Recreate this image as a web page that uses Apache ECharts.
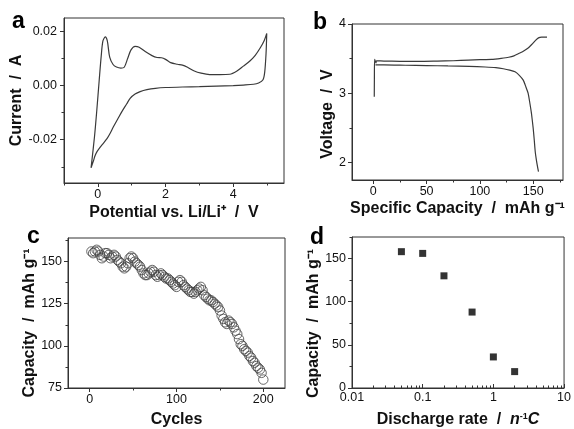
<!DOCTYPE html>
<html><head><meta charset="utf-8">
<script src="https://cdn.jsdelivr.net/npm/echarts@6/dist/echarts.min.js"></script>
<style>html,body{margin:0;padding:0;background:#fff}#c{width:574px;height:429px}</style>
</head><body><div id="c"></div>
<script>
// ---- Panel a: cyclic voltammogram ----
const cvPotential = [-0.2,-0.10,-0.03,0.04,0.10,0.15,0.22,0.28,0.35,0.45,0.55,0.68,0.78,0.88,0.98,1.10,1.22,1.40,1.60,1.75,1.88,2.0,2.15,2.35,2.5,2.65,2.85,3.05,3.3,3.6,3.9,4.1,4.3,4.5,4.65,4.8,4.92,4.99,
  4.97,4.93,4.88,4.75,4.6,4.3,4.0,3.5,3.0,2.5,2.0,1.7,1.45,1.25,1.1,0.96,0.85,0.71,0.58,0.46,0.36,0.27,0.15,0.07,-0.02,-0.08,-0.13,-0.2];
const cvCurrent = [-0.0304,-0.019,-0.009,0.002,0.011,0.0165,0.018,0.0165,0.0105,0.0078,0.0069,0.0065,0.0068,0.010,0.0132,0.0145,0.0142,0.0126,0.0111,0.0104,0.0103,0.0097,0.0085,0.0079,0.0076,0.0068,0.0054,0.0046,0.0041,0.0041,0.0042,0.0053,0.0072,0.0092,0.0112,0.0140,0.0168,0.0193,
  0.012,0.005,0.0022,0.0010,0.0005,0.0002,0.0,-0.0002,-0.0004,-0.0005,-0.0007,-0.0010,-0.0015,-0.0022,-0.0031,-0.0046,-0.0068,-0.0096,-0.0125,-0.0152,-0.0177,-0.0196,-0.0215,-0.0227,-0.0243,-0.0258,-0.0278,-0.0304];
const aXTicks = [0,2,4], aXMinor = [-1,1,3,5];
const aYTicks = [-0.02,0,0.02], aYMinor = [-0.03,-0.01,0.01];

// ---- Panel b: charge / discharge ----
const chargeCap = [0.9,1.0,1.2,2.5,3,10,25,43,60,75,89,100,111,120,127,132,136,140,145,149,152,155,158,161,163];
const chargeV   = [2.95,3.2,3.49,3.44,3.47,3.465,3.462,3.46,3.465,3.47,3.48,3.485,3.49,3.505,3.52,3.54,3.57,3.6,3.65,3.71,3.76,3.8,3.81,3.81,3.81];
const dischargeCap = [2,10,30,50,70,90,105,115,122,128,133,137,140.7,143,145.3,147,148.4,150,151,152,153,154,155];
const dischargeV   = [3.41,3.41,3.405,3.40,3.395,3.39,3.38,3.37,3.355,3.335,3.31,3.26,3.19,3.1,3.0,2.85,2.71,2.5,2.33,2.15,2.04,1.95,1.87];
const bXTicks = [0,50,100,150], bXMinor = [25,75,125,175];
const bYTicks = [2,3,4], bYMinor = [2.5,3.5];

// ---- Panel c: cycling (every 2nd cycle) ----
const cycleCapacity = [156,155,156,157,156,154,152,153,155,155,
  154,152,153,154,153,151,150,149,147,146,
  147,149,152,153,152,150,149,148,147,145,
  143,142,142,143,144,145,144,142,141,142,
  143,142,141,140,140,139,138,137,136,135,
  138,139,138,136,135,134,133,132,132,131,
  132,133,134,135,133,130,129,128,127,127,
  126,125,124,123,121,118,116,114,113,115,
  114,113,111,109,107,104,101,100,98,97,
  96,94,93,91,90,88,87,86,84,80];
const cXTicks = [0,100,200], cXMinor = [50,150];
const cYTicks = [75,100,125,150], cYMinor = [87.5,112.5,137.5,162.5];

// ---- Panel d: rate capability ----
const rates = [0.05,0.1,0.2,0.5,1,2];
const rateCapacity = [158,156,130,88,36,19];
const dXTicks = [0.01,0.1,1,10];
const dXMinor = [0.02,0.03,0.04,0.05,0.06,0.07,0.08,0.09,0.2,0.3,0.4,0.5,0.6,0.7,0.8,0.9,2,3,4,5,6,7,8,9];
const dYTicks = [0,50,100,150], dYMinor = [25,75,125,175];

const FONT = 'Liberation Sans, Arial, Helvetica, sans-serif';
const AX = '#333';
const nameStyle = {fontFamily: FONT, fontWeight: 'bold', fontSize: 16, color: '#111'};

function axisPair(kind, grid, o) {
  const base = {gridIndex: grid, type: o.type || 'value', min: o.min, max: o.max, splitLine: {show: false}, scale: true};
  if (o.type === 'log') base.logBase = 10;
  const major = Object.assign({}, base, {
    position: kind === 'x' ? 'bottom' : 'left',
    axisLine: {show: true, onZero: false, lineStyle: {color: AX, width: 1}},
    axisTick: {show: true, inside: !!o.inside, length: 4, customValues: o.ticks, lineStyle: {color: AX}},
    axisLabel: {show: true, customValues: o.ticks, margin: o.margin, fontFamily: FONT, fontSize: 12.5, color: '#111',
      formatter: o.fmt || (v => String(v))},
    name: o.name, nameLocation: 'middle', nameGap: o.nameGap, nameTextStyle: Object.assign({}, nameStyle, o.nameStyle || {}),
    nameRotate: kind === 'y' ? 90 : 0
  });
  const minor = Object.assign({}, base, {
    position: kind === 'x' ? 'bottom' : 'left',
    axisLine: {show: false, onZero: false},
    axisTick: {show: true, inside: !!o.inside, length: 2.5, customValues: o.minor, lineStyle: {color: AX}},
    axisLabel: {show: false}
  });
  return [major, minor];
}

const grids = [
  {left: 64, top: 18, width: 220, height: 165},
  {left: 352, top: 24, width: 211, height: 156},
  {left: 68, top: 238, width: 217, height: 160},
  {left: 352, top: 237, width: 216, height: 158}
].map(g => Object.assign(g, {show: true, borderColor: AX, borderWidth: 1, backgroundColor: 'transparent', containLabel: false}));

const xAxes = [].concat(
  axisPair('x', 0, {min: -1, max: 5.5, ticks: aXTicks, minor: aXMinor, margin: 5, name: 'Potential vs. Li/Li⁺  /  V', nameGap: 22}),
  axisPair('x', 1, {min: -20, max: 178, ticks: bXTicks, minor: bXMinor, margin: 5, name: 'Specific Capacity  /  mAh g⁻¹', nameGap: 21}),
  axisPair('x', 2, {min: -25, max: 225, ticks: cXTicks, minor: cXMinor, margin: 5, name: 'Cycles', nameGap: 24}),
  axisPair('x', 3, {type: 'log', min: 0.01, max: 10, ticks: dXTicks, minor: dXMinor, inside: true, margin: 3,
    name: '{b|Discharge rate  /  }{i|n}{s|-1}{i|C}', nameGap: 24,
    nameStyle: {rich: {
      b: {fontFamily: FONT, fontWeight: 'bold', fontSize: 16, color: '#111'},
      i: {fontFamily: FONT, fontWeight: 'bold', fontStyle: 'italic', fontSize: 16, color: '#111'},
      s: {fontFamily: FONT, fontWeight: 'bold', fontSize: 9, color: '#111', verticalAlign: 'top', padding: [0,0,6,0]}
    }}})
);
const yAxes = [].concat(
  axisPair('y', 0, {min: -0.036, max: 0.025, ticks: aYTicks, minor: aYMinor, margin: 7, fmt: v => v.toFixed(2), name: 'Current  /  A', nameGap: 39}),
  axisPair('y', 1, {min: 1.75, max: 4, ticks: bYTicks, minor: bYMinor, margin: 6, name: 'Voltage  /  V', nameGap: 14,
    nameStyle: {padding: [0, 24, 0, 0]}}),
  axisPair('y', 2, {min: 75, max: 164, ticks: cYTicks, minor: cYMinor, margin: 6, name: 'Capacity  /  mAh g⁻¹', nameGap: 27,
    nameStyle: {padding: [0, 20, 0, 0]}}),
  axisPair('y', 3, {min: 0, max: 175, ticks: dYTicks, minor: dYMinor, margin: 6, name: 'Capacity  /  mAh g⁻¹', nameGap: 26,
    nameStyle: {padding: [0, 22, 0, 0]}})
);

const zip = (a, b) => a.map((v, i) => [v, b[i]]);
const lineStyle = {color: '#3a3a3a', width: 1.2};

const option = {
  animation: false,
  backgroundColor: '#fff',
  grid: grids,
  xAxis: xAxes,
  yAxis: yAxes,
  series: [
    {type: 'line', xAxisIndex: 0, yAxisIndex: 0, data: zip(cvPotential, cvCurrent), showSymbol: false, smooth: 0.3, lineStyle},
    {type: 'line', xAxisIndex: 2, yAxisIndex: 2, data: zip(chargeCap, chargeV), showSymbol: false, smooth: 0.2, lineStyle},
    {type: 'line', xAxisIndex: 2, yAxisIndex: 2, data: zip(dischargeCap, dischargeV), showSymbol: false, smooth: 0.2, lineStyle},
    {type: 'scatter', xAxisIndex: 4, yAxisIndex: 4, data: cycleCapacity.map((v, i) => [2 * (i + 1), v]), symbol: 'circle', symbolSize: 9.5,
      itemStyle: {color: 'rgba(255,255,255,0)', borderColor: '#444', borderWidth: 1}},
    {type: 'scatter', xAxisIndex: 6, yAxisIndex: 6, data: zip(rates, rateCapacity), symbol: 'rect', symbolSize: 7,
      itemStyle: {color: '#000'}}
  ],
  graphic: [
    {type: 'text', left: 12, top: 10, style: {text: 'a', font: 'bold 23px ' + FONT, fill: '#000'}},
    {type: 'text', left: 313, top: 11, style: {text: 'b', font: 'bold 23px ' + FONT, fill: '#000'}},
    {type: 'text', left: 27, top: 225, style: {text: 'c', font: 'bold 23px ' + FONT, fill: '#000'}},
    {type: 'text', left: 310, top: 226, style: {text: 'd', font: 'bold 23px ' + FONT, fill: '#000'}}
  ]
};
const chart = echarts.init(document.getElementById('c'), null, {renderer: 'canvas'});
chart.setOption(option);
</script></body></html>
